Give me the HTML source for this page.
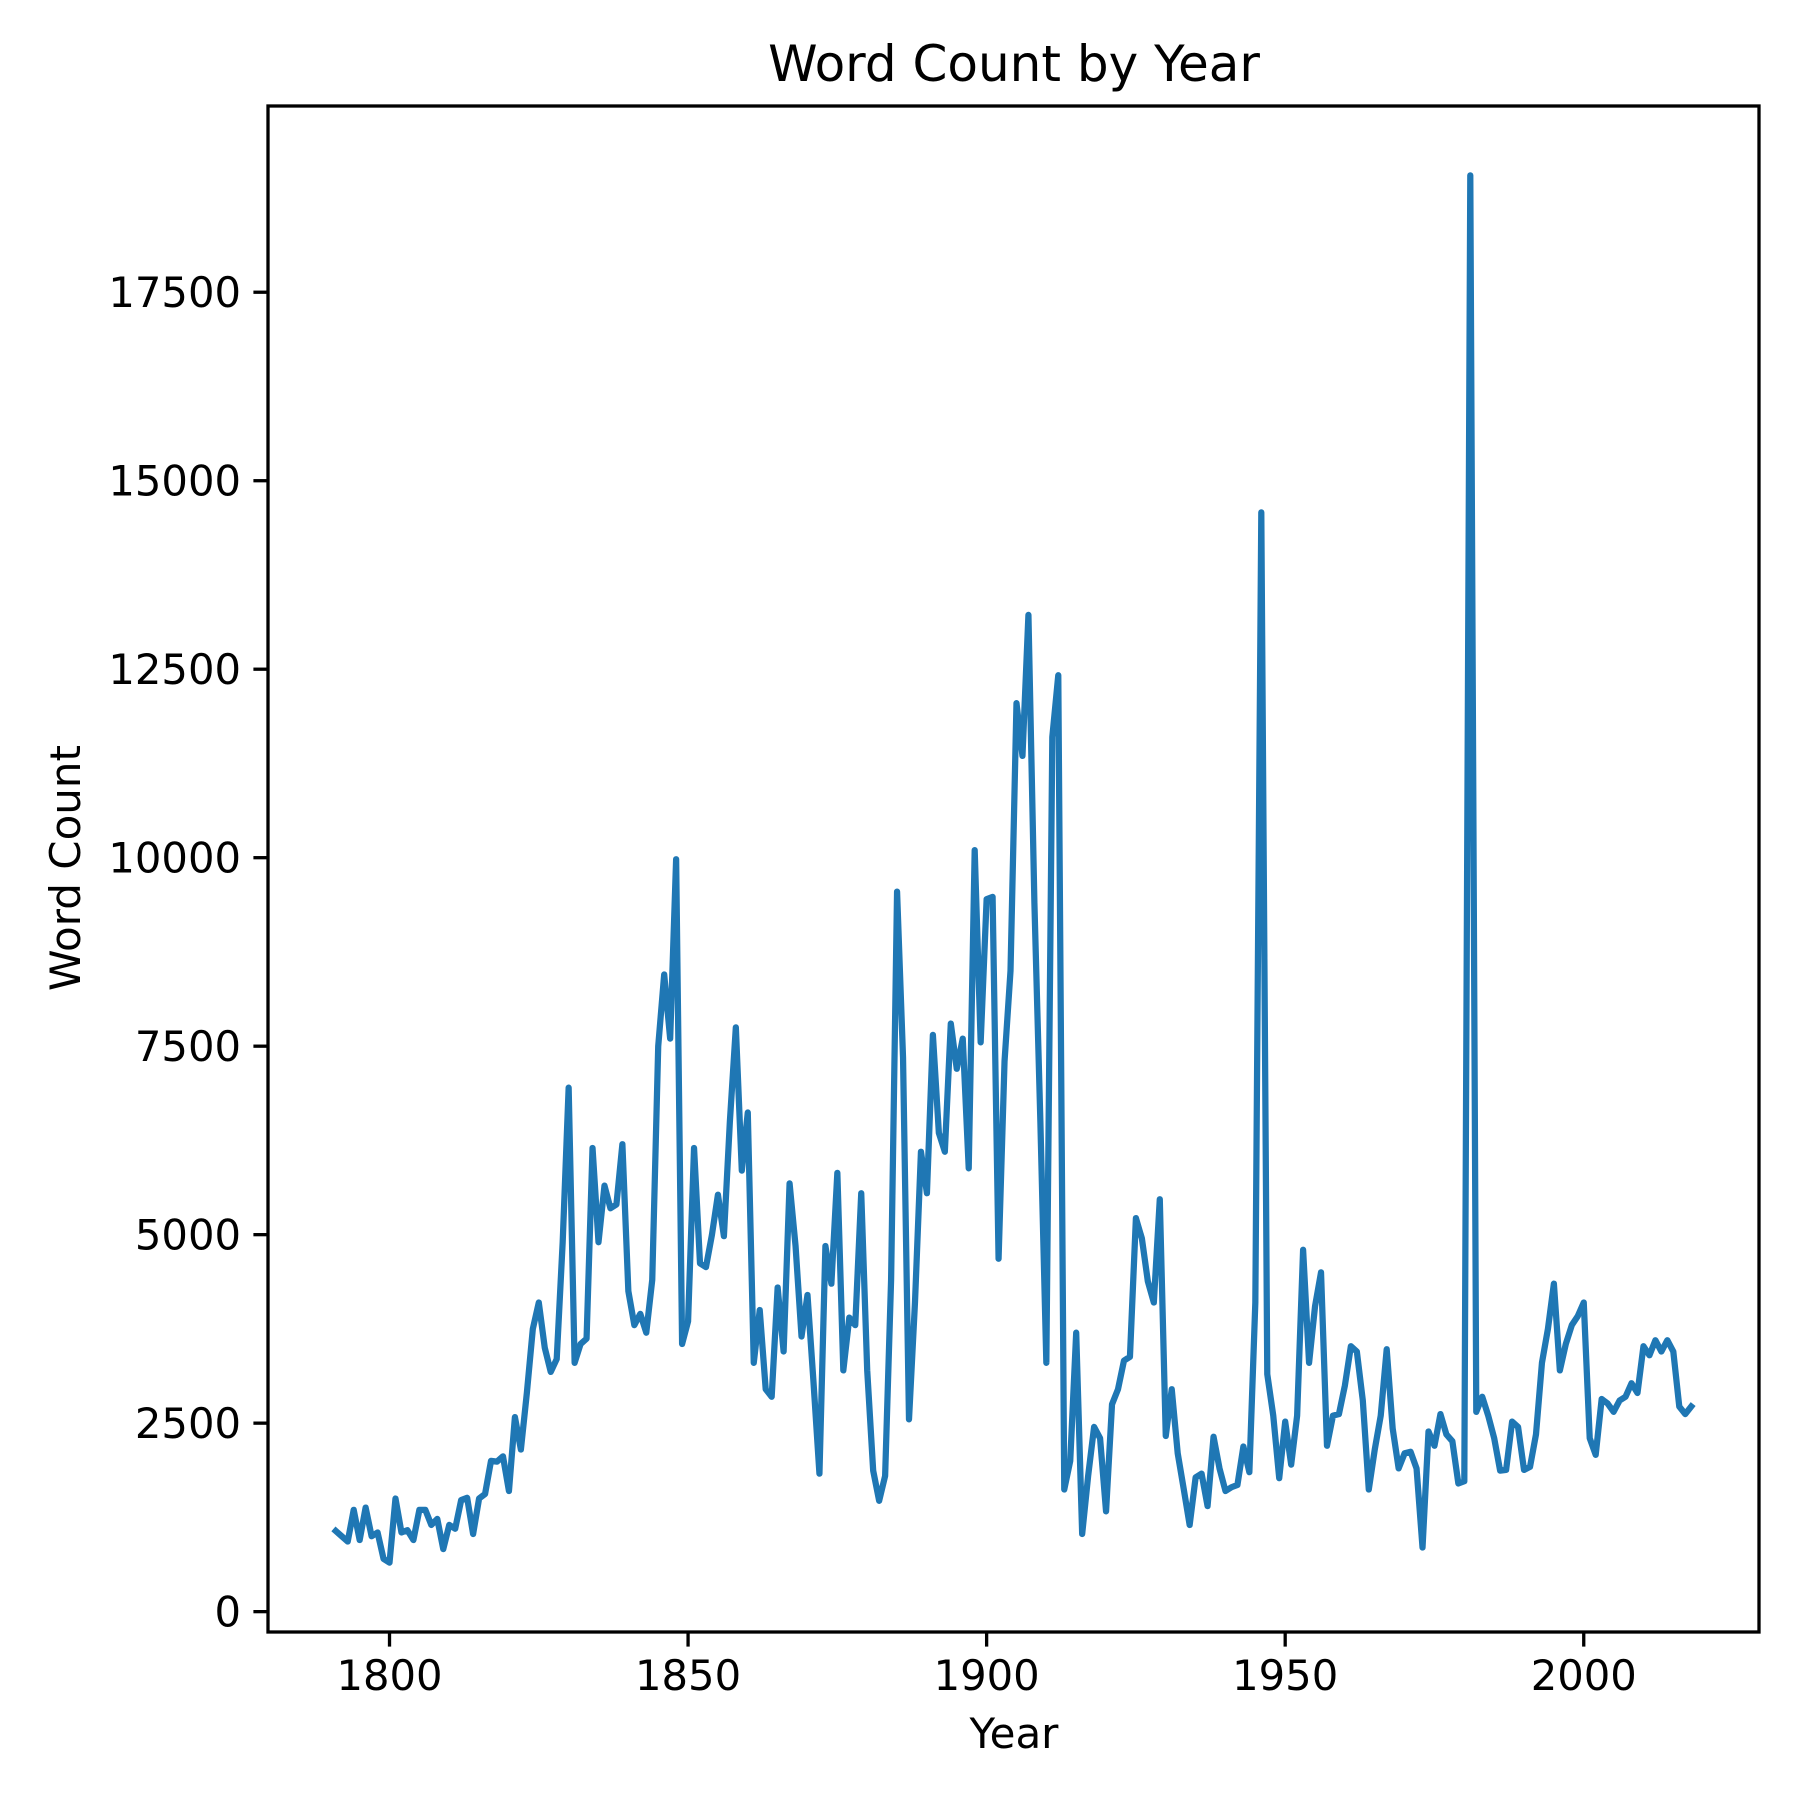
<!DOCTYPE html>
<html><head><meta charset="utf-8"><style>
html,body{margin:0;padding:0;background:#fff;}
svg text{font-family:"DejaVu Sans","Liberation Sans",sans-serif;fill:#000;}
</style></head><body>
<svg id="chart" width="1800" height="1800" viewBox="0 0 1800 1800" xmlns="http://www.w3.org/2000/svg">
<rect width="1800" height="1800" fill="#fff"/>
<text x="1014" y="81" font-size="50" text-anchor="middle">Word Count by Year</text>
<text x="1014" y="1748" font-size="42" text-anchor="middle">Year</text>
<text transform="translate(80,868) rotate(-90)" font-size="42" text-anchor="middle">Word Count</text>
<g id="xticks"></g>
<g id="yticks"></g>
<path id="line" fill="none" stroke="#1f77b4" stroke-width="6.25" stroke-linejoin="round" stroke-linecap="square"/>
<rect x="268" y="106" width="1491" height="1526" fill="none" stroke="#000" stroke-width="3.3"/>
</svg>
<script>
const startYear = 1791;
const wordCounts = [1070,1000,930,1350,950,1380,1000,1050,700,650,
1500,1050,1080,950,1350,1350,1150,1230,830,1150,
1100,1480,1510,1030,1500,1560,2000,1990,2060,1600,
2580,2150,2900,3750,4100,3500,3180,3350,4900,6950,
3300,3550,3620,6150,4900,5650,5350,5400,6200,4250,
3800,3950,3700,4400,7500,8450,7600,9980,3550,3850,
6150,4620,4570,5000,5530,4980,6500,7750,5850,6620,
3300,4000,2950,2850,4300,3450,5680,4850,3650,4200,
3050,1830,4850,4350,5820,3200,3900,3800,5550,3200,
1870,1470,1800,4400,9550,7350,2550,4100,6100,5550,
7650,6350,6100,7800,7200,7600,5880,10100,7550,9450,
9480,4680,7300,8500,12050,11350,13220,9400,6500,3300,
11600,12420,1620,2000,3700,1030,1800,2450,2300,1330,
2750,2950,3330,3380,5220,4950,4380,4100,5470,2330,
2950,2100,1630,1150,1780,1830,1400,2320,1900,1600,
1650,1680,2190,1850,4100,14580,3150,2600,1770,2520,
1950,2600,4800,3300,4050,4500,2200,2600,2620,3000,
3520,3450,2800,1620,2150,2600,3480,2430,1900,2100,
2120,1900,850,2390,2200,2620,2350,2260,1700,1730,
19050,2650,2850,2600,2300,1870,1880,2520,2450,1880,
1920,2350,3300,3750,4350,3200,3550,3800,3920,4100,
2300,2080,2820,2760,2650,2800,2850,3030,2900,3520,
3400,3600,3450,3600,3450,2720,2620,2720];
const xTickLabels = [1800,1850,1900,1950,2000];
const yTickLabels = [0,2500,5000,7500,10000,12500,15000,17500];

const L=268,R=1759,T=106,B=1632;
const years = wordCounts.map((v,i)=>startYear+i);
const x0=Math.min(...years), x1=Math.max(...years), xm=(x1-x0)*0.05;
const y0=Math.min(...wordCounts), y1=Math.max(...wordCounts), ym=(y1-y0)*0.05;
const xs=v=>L+(v-(x0-xm))/((x1+xm)-(x0-xm))*(R-L);
const ys=v=>B-(v-(y0-ym))/((y1+ym)-(y0-ym))*(B-T);
const NS="http://www.w3.org/2000/svg";
let d="";
wordCounts.forEach((v,i)=>{d+=(i?"L":"M")+xs(years[i]).toFixed(2)+","+ys(v).toFixed(2);});
document.getElementById('line').setAttribute('d',d);
const xg=document.getElementById('xticks');
xTickLabels.forEach(t=>{
  const x=xs(t);
  const ln=document.createElementNS(NS,'line');
  ln.setAttribute('x1',x);ln.setAttribute('x2',x);ln.setAttribute('y1',B);ln.setAttribute('y2',B+14.6);
  ln.setAttribute('stroke','#000');ln.setAttribute('stroke-width','3.3');
  
  
  xg.appendChild(ln);
  const tx=document.createElementNS(NS,'text');
  tx.setAttribute('x',x);tx.setAttribute('y',B+58);tx.setAttribute('font-size','41.7');tx.setAttribute('text-anchor','middle');
  tx.textContent=t;
  
  
  xg.appendChild(tx);
});
const yg=document.getElementById('yticks');
yTickLabels.forEach(t=>{
  const y=ys(t);
  const ln=document.createElementNS(NS,'line');
  ln.setAttribute('x1',L-14.6);ln.setAttribute('x2',L);ln.setAttribute('y1',y);ln.setAttribute('y2',y);
  ln.setAttribute('stroke','#000');ln.setAttribute('stroke-width','3.3');
  
  
  yg.appendChild(ln);
  const tx=document.createElementNS(NS,'text');
  tx.setAttribute('x',L-27);tx.setAttribute('y',y+15);tx.setAttribute('font-size','41.7');tx.setAttribute('text-anchor','end');
  tx.textContent=t;
  
  
  yg.appendChild(tx);
});
</script>
</body></html>
